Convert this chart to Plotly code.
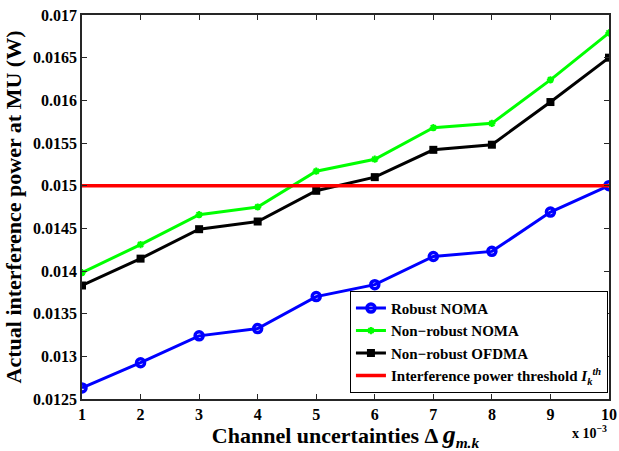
import plotly.graph_objects as go

x_vals = [1, 2, 3, 4, 5, 6, 7, 8, 9, 10]
robust_noma = [0.01263, 0.012925, 0.01324, 0.013325, 0.0137, 0.01384, 0.01417, 0.01423, 0.01469, 0.0150]
nonrobust_noma = [0.01398, 0.01431, 0.01466, 0.01475, 0.01517, 0.01531, 0.01568, 0.01573, 0.01624, 0.01679]
nonrobust_ofdma = [0.01383, 0.014145, 0.01449, 0.01458, 0.01494, 0.0151, 0.01542, 0.01548, 0.01598, 0.0165]
threshold = 0.015

y_ticks = [0.0125, 0.013, 0.0135, 0.014, 0.0145, 0.015, 0.0155, 0.016, 0.0165, 0.017]
y_tick_text = ["0.0125", "0.013", "0.0135", "0.014", "0.0145", "0.015", "0.0155", "0.016", "0.0165", "0.017"]
x_ticks = [1, 2, 3, 4, 5, 6, 7, 8, 9, 10]

FONT = "Liberation Serif"

fig = go.Figure()
fig.add_trace(go.Scatter(
    x=x_vals, y=robust_noma, mode="lines+markers", name="<b>Robust NOMA</b>",
    line=dict(color="#0000ff", width=3),
    marker=dict(symbol="circle-open", size=8, color="#0000ff", line=dict(width=3.5, color="#0000ff")),
))
fig.add_trace(go.Scatter(
    x=x_vals, y=nonrobust_noma, mode="lines+markers", name="<b>Non−robust NOMA</b>",
    line=dict(color="#00ff00", width=3),
    marker=dict(symbol="asterisk-open", size=6, color="#00ff00", line=dict(width=2, color="#00ff00")),
))
fig.add_trace(go.Scatter(
    x=x_vals, y=nonrobust_ofdma, mode="lines+markers", name="<b>Non−robust OFDMA</b>",
    line=dict(color="#000000", width=3),
    marker=dict(symbol="square", size=8, color="#000000"),
))
fig.add_trace(go.Scatter(
    x=[x_vals[0], x_vals[-1]], y=[threshold, threshold], mode="lines",
    name="<b>Interference power threshold <i>I</i><sub><i>k</i></sub><sup><i>th</i></sup></b>",
    line=dict(color="#ff0000", width=3.5),
))

axis_common = dict(
    showline=True, linecolor="#262626", linewidth=1.5, mirror="allticks",
    ticks="inside", ticklen=5, tickcolor="#262626", tickwidth=1,
    showgrid=False, zeroline=False,
    tickfont=dict(family=FONT, size=16, color="black"),
)

fig.update_layout(
    width=619, height=451,
    margin=dict(l=82, r=10, t=15, b=52, autoexpand=False),
    paper_bgcolor="white", plot_bgcolor="white",
    font=dict(family=FONT, color="black"),
    showlegend=True,
    legend=dict(
        x=0.998, y=0.016, xanchor="right", yanchor="bottom",
        bgcolor="white", bordercolor="black", borderwidth=1,
        font=dict(family=FONT, size=15, color="black"),
        tracegroupgap=0,
    ),
    xaxis=dict(
        range=[1, 10], tickvals=x_ticks, ticktext=[f"<b>{v}</b>" for v in x_ticks],
        title=dict(
            text="<b>Channel uncertainties Δ <span style='font-size:26px'><i>g</i></span><sub><i>m.k</i></sub></b>",
            font=dict(family=FONT, size=22, color="black"), standoff=0,
        ),
        **axis_common,
    ),
    yaxis=dict(
        range=[0.0125, 0.017], tickvals=y_ticks, ticktext=[f"<b>{t}</b>" for t in y_tick_text],
        title=dict(
            text="<b>Actual interference power at MU (W)</b>",
            font=dict(family=FONT, size=22, color="black"), standoff=5,
        ),
        **axis_common,
    ),
    annotations=[dict(
        x=1.0, y=-0.086, xref="paper", yref="paper", xanchor="right", yanchor="middle",
        text="<b>x 10<sup>−3</sup></b>", showarrow=False,
        font=dict(family=FONT, size=14, color="black"),
    )],
)

fig.write_html("out.html")
